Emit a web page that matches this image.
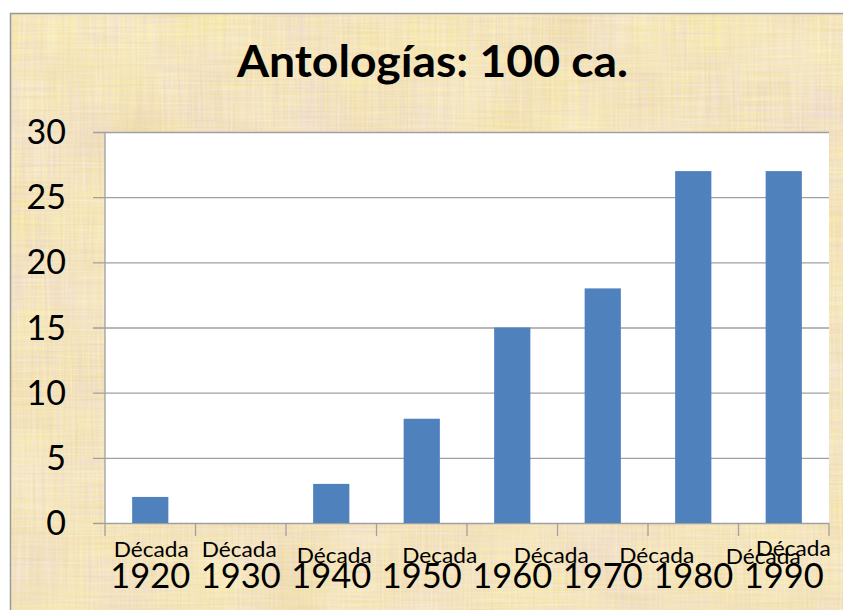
<!DOCTYPE html>
<html>
<head>
<meta charset="utf-8">
<script src="https://cdn.jsdelivr.net/npm/d3@7"></script>
<style>
  html, body { margin: 0; padding: 0; background: #ffffff; }
  svg { display: block; }
  text { font-family: Lato, "Open Sans", sans-serif; fill: #000; }
</style>
</head>
<body>
<div id="main-chart"></div>
<script>
const title = "Antologías: 100 ca.";
const decades = ["1920", "1930", "1940", "1950", "1960", "1970", "1980", "1990"];
const decadeWords = ["Década", "Década", "Década", "Decada", "Década", "Década", "Década", "Década"];
const counts = [2, 0, 3, 8, 15, 18, 27, 27];
const yTicks = [0, 5, 10, 15, 20, 25, 30];

// the "Década" boxes sit a bit off in the original slide
const wordShift = [1, -1.5, 3, 18, 39, 54, 70, 9.5];
const wordDrop = [0, 0, 6, 6, 6, 6, 7, -1];

const width = 843;
const height = 610;
const plot = { left: 105, right: 829, top: 132, bottom: 523 };
const tickLen = 12;

const svg = d3
  .select("#main-chart")
  .append("svg")
  .attr("width", width)
  .attr("height", height);

// parchment texture
const defs = svg.append("defs");
const filter = defs
  .append("filter")
  .attr("id", "paper")
  .attr("x", 0)
  .attr("y", 0)
  .attr("width", "100%")
  .attr("height", "100%");
filter
  .append("feTurbulence")
  .attr("type", "fractalNoise")
  .attr("baseFrequency", "0.45 0.015")
  .attr("numOctaves", 2)
  .attr("seed", 3)
  .attr("result", "v");
filter
  .append("feTurbulence")
  .attr("type", "fractalNoise")
  .attr("baseFrequency", "0.015 0.45")
  .attr("numOctaves", 2)
  .attr("seed", 8)
  .attr("result", "h");
filter
  .append("feTurbulence")
  .attr("type", "fractalNoise")
  .attr("baseFrequency", "0.012")
  .attr("numOctaves", 2)
  .attr("seed", 5)
  .attr("result", "m");
filter
  .append("feComposite")
  .attr("in", "v")
  .attr("in2", "h")
  .attr("operator", "arithmetic")
  .attr("k2", 0.5)
  .attr("k3", 0.5)
  .attr("result", "n");
filter
  .append("feComposite")
  .attr("in", "n")
  .attr("in2", "m")
  .attr("operator", "arithmetic")
  .attr("k2", 0.7)
  .attr("k3", 0.3)
  .attr("result", "nm");
filter
  .append("feColorMatrix")
  .attr("in", "nm")
  .attr("type", "matrix")
  .attr(
    "values",
    "0.25 0 0 0 0.775  0.40 0 0 0 0.575  0.05 0.65 0 0 0.16  0 0 0 0 1"
  );

svg
  .append("rect")
  .attr("x", 10)
  .attr("y", 13)
  .attr("width", width)
  .attr("height", height)
  .attr("filter", "url(#paper)");
svg
  .append("rect")
  .attr("x", 10.5)
  .attr("y", 13.5)
  .attr("width", width + 10)
  .attr("height", height + 10)
  .attr("fill", "none")
  .attr("stroke", "#999999")
  .attr("stroke-width", 1.5);

svg
  .append("text")
  .attr("x", 432.5)
  .attr("y", 77)
  .attr("text-anchor", "middle")
  .attr("font-weight", "bold")
  .attr("font-size", 44)
  .attr("textLength", 391)
  .attr("lengthAdjust", "spacingAndGlyphs")
  .text(title);

const xScale = d3
  .scaleBand()
  .domain(decades)
  .range([plot.left, plot.right])
  .padding(0);

const yScale = d3
  .scaleLinear()
  .domain([0, 30])
  .range([plot.bottom, plot.top]);

svg
  .append("rect")
  .attr("x", plot.left)
  .attr("y", plot.top)
  .attr("width", plot.right - plot.left)
  .attr("height", plot.bottom - plot.top)
  .attr("fill", "#ffffff");

// gridlines + left ticks, drawn from the tick start to the right edge
const yAxis = d3
  .axisRight(yScale)
  .tickValues(yTicks)
  .tickSize(plot.right - plot.left + tickLen)
  .tickFormat("");

svg
  .append("g")
  .attr("transform", `translate(${plot.left - tickLen}, 0)`)
  .call(yAxis)
  .call((g) => {
    g.select(".domain").remove();
    g.selectAll("line").attr("stroke", "#a0a0a0").attr("stroke-width", 1.3);
  });

svg
  .append("g")
  .selectAll("text")
  .data(yTicks)
  .join("text")
  .attr("x", 66)
  .attr("y", (d) => yScale(d) + 12)
  .attr("text-anchor", "end")
  .attr("font-size", 34)
  .text((d) => d);

svg
  .append("line")
  .attr("x1", plot.left)
  .attr("x2", plot.left)
  .attr("y1", plot.top)
  .attr("y2", plot.bottom)
  .attr("stroke", "#a0a0a0")
  .attr("stroke-width", 1.3);

// bars
const barW = xScale.bandwidth() * 0.4;
svg
  .append("g")
  .selectAll("rect")
  .data(counts)
  .join("rect")
  .attr("x", (d, i) => xScale(decades[i]) + (xScale.bandwidth() - barW) / 2)
  .attr("y", (d) => yScale(d))
  .attr("width", barW)
  .attr("height", (d) => yScale(0) - yScale(d))
  .attr("fill", "#4f81bd");

// x ticks at category boundaries
svg
  .append("g")
  .selectAll("line")
  .data(decades.concat(["end"]))
  .join("line")
  .attr("x1", (d, i) => plot.left + i * xScale.step())
  .attr("x2", (d, i) => plot.left + i * xScale.step())
  .attr("y1", plot.bottom)
  .attr("y2", plot.bottom + 13)
  .attr("stroke", "#a0a0a0")
  .attr("stroke-width", 1.3);

const catCenter = (i) => xScale(decades[i]) + xScale.bandwidth() / 2;

svg
  .append("g")
  .selectAll("text")
  .data(decadeWords)
  .join("text")
  .attr("x", (d, i) => catCenter(i) + wordShift[i])
  .attr("y", (d, i) => 557 + wordDrop[i])
  .attr("text-anchor", "middle")
  .attr("font-size", 21)
  .attr("textLength", 75)
  .attr("lengthAdjust", "spacingAndGlyphs")
  .text((d) => d);

svg
  .append("g")
  .selectAll("text")
  .data(decades)
  .join("text")
  .attr("x", (d, i) => catCenter(i))
  .attr("y", 588)
  .attr("text-anchor", "middle")
  .attr("font-size", 35)
  .attr("textLength", 80)
  .attr("lengthAdjust", "spacingAndGlyphs")
  .text((d) => d);
</script>
</body>
</html>
